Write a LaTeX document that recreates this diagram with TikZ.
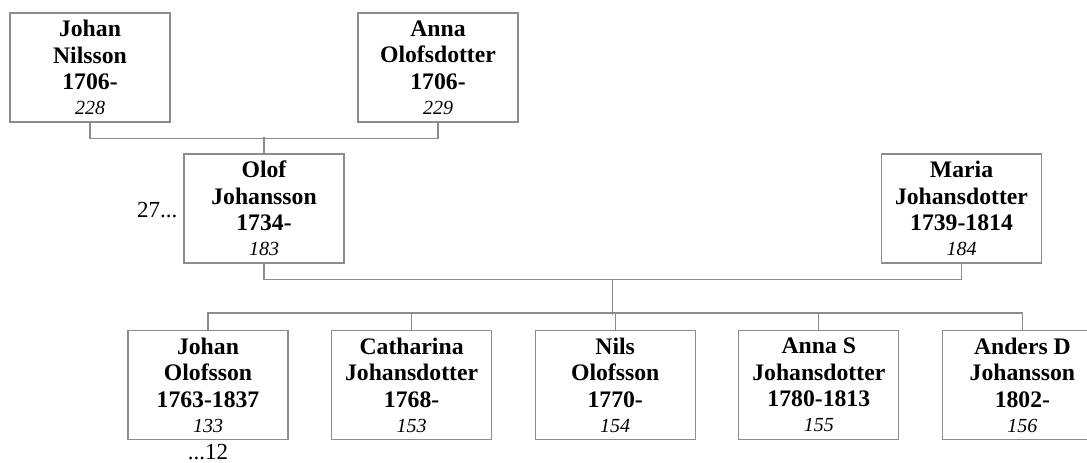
\documentclass[tikz,border=0pt]{standalone}
\usepackage{fontspec}
\setmainfont{Liberation Serif}
\usetikzlibrary{positioning,calc}
\definecolor{treegray}{RGB}{140,140,140}
\newcommand{\pers}[4]{#1\\#2\\#3\\[-1.5pt]\fontsize{20}{24}\selectfont\mdseries\itshape #4}

\begin{document}
\begin{tikzpicture}[x=1pt, y=-1pt,
    person/.style={rectangle, draw=treegray, line width=1.1pt, minimum width=160pt, minimum height=109pt, inner sep=0pt, align=center, font=\fontsize{23.7}{26.5}\selectfont\bfseries},
    link/.style={draw=treegray, line width=1.1pt},
    more/.style={inner sep=0pt, font=\fontsize{23}{26}\selectfont}]
    \useasboundingbox (0,0) rectangle (1087,463);
    % grandparents
    \node [person] (johan) at (90,67.5) {\pers{Johan}{Nilsson}{1706-}{228}};
    \node [person] (anna) at (438,67.5) {\pers{Anna}{Olofsdotter}{1706-}{229}};
    % parents
    \node [person] (olof) at (264,208.5) {\pers{Olof}{Johansson}{1734-}{183}};
    \node [person] (maria) at (961.5,208.5) {\pers{Maria}{Johansdotter}{1739-1814}{184}};
    % children
    \node [person] (c1) at (208,385) {\pers{Johan}{Olofsson}{1763-1837}{133}};
    \node [person, right=42.5pt of c1] (c2) {\pers{Catharina}{Johansdotter}{1768-}{153}};
    \node [person, right=42.5pt of c2] (c3) {\pers{Nils}{Olofsson}{1770-}{154}};
    \node [person, right=42.5pt of c3] (c4) {\pers{Anna S}{Johansdotter}{1780-1813}{155}};
    \node [person, right=42.5pt of c4] (c5) {\pers{Anders D}{Johansson}{1802-}{156}};
    \node [more, left=6pt of olof, yshift=-2pt] (up) {27...};
    \node [more, below=4pt of c1] (down) {...12};
    % connectors
    \draw [link] (johan.south) -- ++(0,16) -| (anna.south);
    \draw [link] (olof.north) -- ++(0,-16);
    \draw [link] (olof.south) -- ++(0,16) -| (maria.south);
    \coordinate (mid) at ($(olof.south)!0.5!(maria.south)+(0,16)$);
    \draw [link] (mid) -- ++(0,35);
    \draw [link] (c1.north) -- ++(0,-17) -| (c5.north);
    \foreach \c in {c2,c3,c4} \draw [link] (\c.north) -- ++(0,-17);
\end{tikzpicture}
\end{document}
